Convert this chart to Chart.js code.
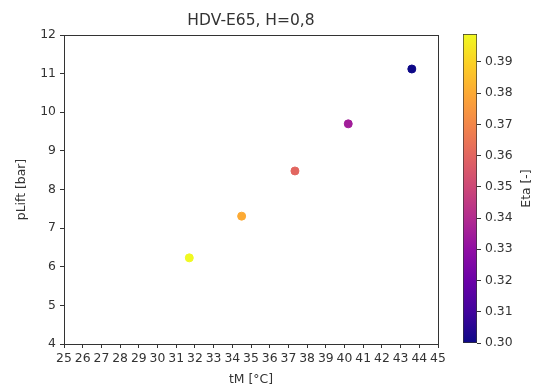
<!DOCTYPE html>
<html>
<head>
<meta charset="utf-8">
<script src="https://cdn.jsdelivr.net/npm/chart.js@4.4.1/dist/chart.umd.min.js"></script>
<style>
  body { margin: 0; background: #fff; }
  #wrap { position: relative; width: 535px; height: 390px; }
  #main { position: absolute; left: 0; top: 0; }
  #cbar { position: absolute; left: 440px; top: 0; }
</style>
</head>
<body>
<div id="wrap">
  <canvas id="main" width="455" height="390"></canvas>
  <canvas id="cbar" width="95" height="390"></canvas>
</div>
<script>
// data
const tM = [31.7, 34.5, 37.35, 40.2, 43.6];
const pLift = [6.23, 7.31, 8.48, 9.7, 11.12];
const eta = [0.3989, 0.380, 0.360, 0.335, 0.300];
const xTicks = [25, 26, 27, 28, 29, 30, 31, 32, 33, 34, 35, 36, 37, 38, 39, 40, 41, 42, 43, 44, 45];
const yTicks = [4, 5, 6, 7, 8, 9, 10, 11, 12];
const etaTicks = [0.30, 0.31, 0.32, 0.33, 0.34, 0.35, 0.36, 0.37, 0.38, 0.39];

const etaMin = Math.min(...eta);
const etaMax = Math.max(...eta);

// plasma colormap stops
const plasma = ["#0d0887", "#41049d", "#6a00a8", "#8f0da4", "#b12a90", "#cc4778",
  "#e16462", "#f2844b", "#fca636", "#fcce25", "#f0f921"];

function hexToRgb(h) {
  return [parseInt(h.slice(1, 3), 16), parseInt(h.slice(3, 5), 16), parseInt(h.slice(5, 7), 16)];
}

function plasmaColor(t) {
  t = Math.max(0, Math.min(1, t));
  const pos = t * (plasma.length - 1);
  const i = Math.min(Math.floor(pos), plasma.length - 2);
  const f = pos - i;
  const a = hexToRgb(plasma[i]), b = hexToRgb(plasma[i + 1]);
  const c = a.map((v, k) => Math.round(v + (b[k] - v) * f));
  return `rgb(${c[0]},${c[1]},${c[2]})`;
}

const pointColors = eta.map(e => plasmaColor((e - etaMin) / (etaMax - etaMin)));

const family = "'DejaVu Sans', sans-serif";
const font = { family: family, size: 12.4 };
const textColor = "#333";

// box around the plot like matplotlib, title centred over the axes
const frame = {
  id: "frame",
  afterDraw(chart) {
    const a = chart.chartArea;
    const c = chart.ctx;
    c.save();
    c.strokeStyle = "#333";
    c.lineWidth = 1;
    c.strokeRect(Math.round(a.left) + 0.5, Math.round(a.top) + 0.5,
      Math.round(a.right - a.left), Math.round(a.bottom - a.top));
    c.fillStyle = textColor;
    c.font = `15.5px ${family}`;
    c.textAlign = "center";
    c.textBaseline = "middle";
    c.fillText("HDV-E65, H=0,8", (a.left + a.right) / 2, 21);
    c.restore();
  }
};

new Chart(document.getElementById("main"), {
  type: "scatter",
  data: {
    datasets: [{
      data: tM.map((x, i) => ({ x: x, y: pLift[i] })),
      backgroundColor: pointColors,
      borderColor: pointColors,
      pointRadius: 4,
      pointHoverRadius: 4
    }]
  },
  options: {
    responsive: false,
    animation: false,
    layout: { padding: { left: 0, right: 17, top: 35, bottom: 0 } },
    plugins: {
      legend: { display: false },
      tooltip: { enabled: false },
      title: { display: false }
    },
    scales: {
      x: {
        type: "linear",
        min: 25,
        max: 45,
        afterBuildTicks: s => { s.ticks = xTicks.map(v => ({ value: v })); },
        afterFit: s => { s.height = 46; },
        ticks: { autoSkip: false, maxRotation: 0, color: textColor, font: font, padding: 3 },
        grid: { drawOnChartArea: false, drawTicks: true, tickLength: 4, color: "#333" },
        border: { color: "#333" },
        title: { display: true, text: "tM [°C]", color: textColor, font: font, padding: { top: 0, bottom: 2.5 } }
      },
      y: {
        type: "linear",
        min: 4,
        max: 12,
        afterBuildTicks: s => { s.ticks = yTicks.map(v => ({ value: v })); },
        afterFit: s => { s.width = 64; },
        ticks: { color: textColor, font: font, padding: 4 },
        grid: { drawOnChartArea: false, drawTicks: true, tickLength: 4, color: "#333" },
        border: { color: "#333" },
        title: { display: true, text: "pLift [bar]", color: textColor, font: font, padding: { top: 14.5, bottom: 0 } }
      }
    }
  },
  plugins: [frame]
});

// colorbar label, read bottom to top
const cbarLabel = {
  id: "cbarLabel",
  afterDraw(chart) {
    const a = chart.chartArea;
    const c = chart.ctx;
    c.save();
    c.translate(87, (a.top + a.bottom) / 2);
    c.rotate(-Math.PI / 2);
    c.fillStyle = textColor;
    c.font = `12.4px ${family}`;
    c.textAlign = "center";
    c.textBaseline = "middle";
    c.fillText("Eta [-]", 0, 0);
    c.restore();
  }
};

// colorbar as a single floating bar with a plasma gradient
new Chart(document.getElementById("cbar"), {
  type: "bar",
  data: {
    labels: [""],
    datasets: [{
      data: [[etaMin, etaMax]],
      backgroundColor: ctx => {
        const area = ctx.chart.chartArea;
        if (!area) return plasma[0];
        const g = ctx.chart.ctx.createLinearGradient(0, area.bottom, 0, area.top);
        plasma.forEach((c, i) => g.addColorStop(i / (plasma.length - 1), c));
        return g;
      },
      borderColor: "#333",
      borderWidth: 1,
      borderSkipped: false,
      barPercentage: 1,
      categoryPercentage: 1
    }]
  },
  options: {
    responsive: false,
    animation: false,
    layout: { padding: { left: 23, right: 0, top: 34, bottom: 47 } },
    plugins: { legend: { display: false }, tooltip: { enabled: false } },
    scales: {
      x: { display: false },
      y: {
        position: "right",
        min: etaMin,
        max: etaMax,
        afterBuildTicks: s => { s.ticks = etaTicks.map(v => ({ value: v })); },
        afterFit: s => { s.width = 58; },
        ticks: { color: textColor, font: font, padding: 4, callback: v => v.toFixed(2) },
        grid: { drawOnChartArea: false, drawTicks: true, tickLength: 4, color: "#333" },
        border: { display: false }
      }
    }
  },
  plugins: [cbarLabel]
});
</script>
</body>
</html>
